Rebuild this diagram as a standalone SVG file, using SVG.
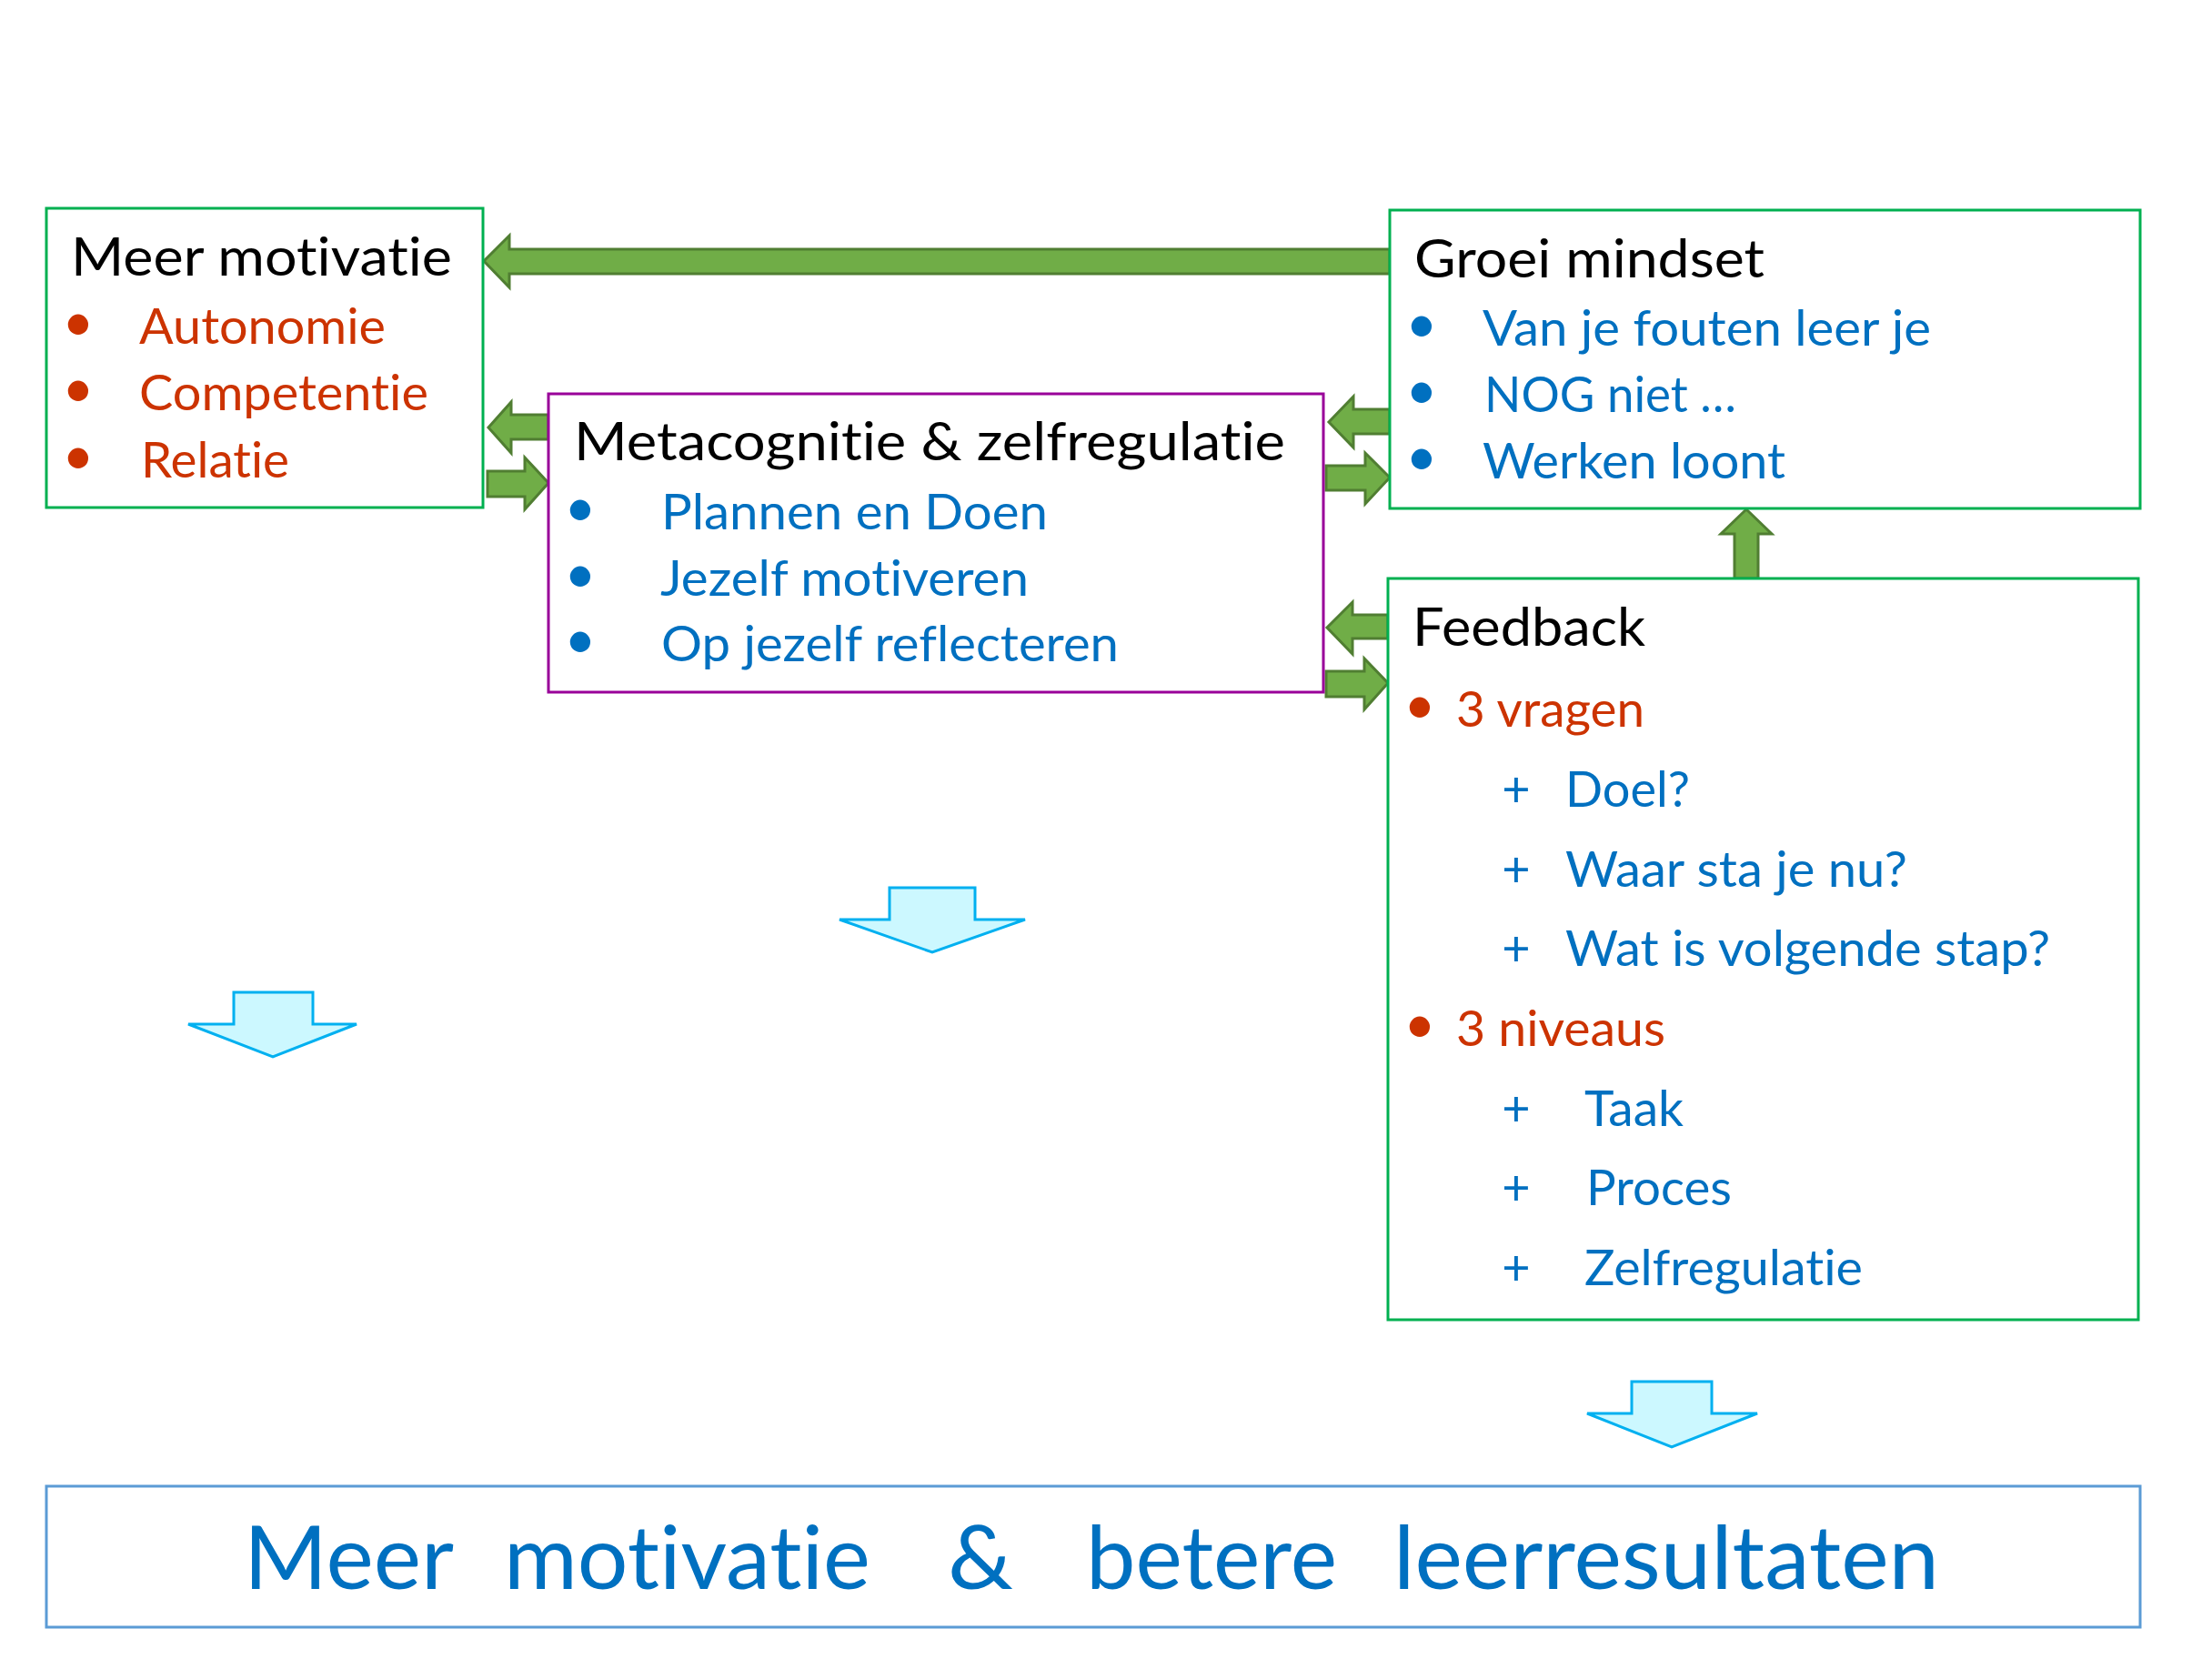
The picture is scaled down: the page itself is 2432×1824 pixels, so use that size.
<svg xmlns="http://www.w3.org/2000/svg" width="2432" height="1824" viewBox="0 0 2432 1824">
<style>
text{font-family:Lato,"Open Sans","Liberation Sans",sans-serif;font-variant-ligatures:none;}
.t{font-size:59px;fill:#000000;}
.i{font-size:54px;}
.r{fill:#CC3300;}
.b{fill:#0070C0;}
.bul{font-size:60px;text-anchor:middle;}
.pl{font-size:54px;text-anchor:middle;}
.gbox{fill:#FFFFFF;stroke:#00B050;stroke-width:3;}
.pbox{fill:#FFFFFF;stroke:#990099;stroke-width:3;}
.bbox{fill:#FFFFFF;stroke:#5B9BD5;stroke-width:3;}
.ga{fill:#70AD47;stroke:#507E32;stroke-width:3;stroke-linejoin:miter;}
.ca{fill:#CCF8FF;stroke:#00B0F0;stroke-width:3;stroke-linejoin:miter;}
.big{font-size:96px;fill:#0070C0;}
</style>
<rect width="2432" height="1824" fill="#FFFFFF"/>

<g id="connectors">
  <polygon class="ga" points="1528,274 560,274 560,259 532,287 560,316 560,301 1528,301"/>
  <polygon class="ga" points="603,456 562,456 562,442 537,470 562,498 562,483 603,483"/>
  <polygon class="ga" points="536,518 577,518 577,503 603,531 577,560 577,546 536,546"/>
  <polygon class="ga" points="1528,450 1488,450 1488,436 1461,464 1488,492 1488,477 1528,477"/>
  <polygon class="ga" points="1458,512 1501,512 1501,498 1528,525 1501,554 1501,539 1458,539"/>
  <polygon class="ga" points="1526,676 1487,676 1487,662 1459,690 1487,719 1487,702 1526,702"/>
  <polygon class="ga" points="1458,738 1500,738 1500,724 1526,751 1500,780 1500,766 1458,766"/>
  <polygon class="ga" points="1907,636 1907,587 1892,587 1920,560 1948,587 1933,587 1933,636"/>
  <polygon class="ca" points="978,976 1072,976 1072,1011 1127,1011 1025,1047 923,1011 978,1011"/>
  <polygon class="ca" points="257,1091 344,1091 344,1126 392,1126 300,1162 207,1126 257,1126"/>
  <polygon class="ca" points="1794,1519 1882,1519 1882,1554 1932,1554 1838,1591 1745,1554 1794,1554"/>
</g>

<g id="node-meer-motivatie">
  <rect class="gbox" x="51" y="229" width="480" height="329"/>
  <text class="t" x="78" y="303" textLength="419" lengthAdjust="spacingAndGlyphs">Meer motivatie</text>
  <text class="bul r" x="86" y="375">•</text>
  <text class="i r" x="153" y="378" textLength="271" lengthAdjust="spacingAndGlyphs">Autonomie</text>
  <text class="bul r" x="86" y="448">•</text>
  <text class="i r" x="153" y="451" textLength="318" lengthAdjust="spacingAndGlyphs">Competentie</text>
  <text class="bul r" x="86" y="522">•</text>
  <text class="i r" x="155" y="525" textLength="163" lengthAdjust="spacingAndGlyphs">Relatie</text>
</g>

<g id="node-metacognitie">
  <rect class="pbox" x="603" y="433" width="852" height="328"/>
  <text class="t" x="631" y="506" textLength="782" lengthAdjust="spacingAndGlyphs">Metacognitie &amp; zelfregulatie</text>
  <text class="bul b" x="638" y="579">•</text>
  <text class="i b" x="727" y="582" textLength="425" lengthAdjust="spacingAndGlyphs">Plannen en Doen</text>
  <text class="bul b" x="638" y="652">•</text>
  <text class="i b" x="726" y="655" textLength="405" lengthAdjust="spacingAndGlyphs">Jezelf motiveren</text>
  <text class="bul b" x="638" y="724">•</text>
  <text class="i b" x="727" y="727" textLength="503" lengthAdjust="spacingAndGlyphs">Op jezelf reflecteren</text>
</g>

<g id="node-groei-mindset">
  <rect class="gbox" x="1528" y="231" width="825" height="328"/>
  <text class="t" x="1555" y="305" textLength="385" lengthAdjust="spacingAndGlyphs">Groei mindset</text>
  <text class="bul b" x="1563" y="377">•</text>
  <text class="i b" x="1630" y="380" textLength="493" lengthAdjust="spacingAndGlyphs">Van je fouten leer je</text>
  <text class="bul b" x="1563" y="450">•</text>
  <text class="i b" x="1632" y="453" textLength="277" lengthAdjust="spacingAndGlyphs">NOG niet …</text>
  <text class="bul b" x="1563" y="523">•</text>
  <text class="i b" x="1630" y="526" textLength="333" lengthAdjust="spacingAndGlyphs">Werken loont</text>
</g>

<g id="node-feedback">
  <rect class="gbox" x="1526" y="636" width="825" height="815"/>
  <text class="t" x="1553" y="710" textLength="256" lengthAdjust="spacingAndGlyphs">Feedback</text>
  <text class="bul r" x="1561" y="796">•</text>
  <text class="i r" x="1601" y="799" textLength="207" lengthAdjust="spacingAndGlyphs">3 vragen</text>
  <text class="pl b" x="1667" y="887">+</text>
  <text class="i b" x="1721" y="887" textLength="137" lengthAdjust="spacingAndGlyphs">Doel?</text>
  <text class="pl b" x="1667" y="975">+</text>
  <text class="i b" x="1721" y="975" textLength="376" lengthAdjust="spacingAndGlyphs">Waar sta je nu?</text>
  <text class="pl b" x="1667" y="1062">+</text>
  <text class="i b" x="1721" y="1062" textLength="533" lengthAdjust="spacingAndGlyphs">Wat is volgende stap?</text>
  <text class="bul r" x="1561" y="1147">•</text>
  <text class="i r" x="1601" y="1150" textLength="230" lengthAdjust="spacingAndGlyphs">3 niveaus</text>
  <text class="pl b" x="1667" y="1238">+</text>
  <text class="i b" x="1742" y="1238" textLength="109" lengthAdjust="spacingAndGlyphs">Taak</text>
  <text class="pl b" x="1667" y="1325">+</text>
  <text class="i b" x="1744" y="1325" textLength="160" lengthAdjust="spacingAndGlyphs">Proces</text>
  <text class="pl b" x="1667" y="1413">+</text>
  <text class="i b" x="1742" y="1413" textLength="306" lengthAdjust="spacingAndGlyphs">Zelfregulatie</text>
</g>

<g id="node-resultaat">
  <rect class="bbox" x="51" y="1634" width="2302" height="155"/>
  <text class="big" y="1747"><tspan x="268" textLength="231" lengthAdjust="spacingAndGlyphs">Meer</tspan><tspan x="554" textLength="403" lengthAdjust="spacingAndGlyphs">motivatie</tspan><tspan x="1042" textLength="72" lengthAdjust="spacingAndGlyphs">&amp;</tspan><tspan x="1194" textLength="276" lengthAdjust="spacingAndGlyphs">betere</tspan><tspan x="1532" textLength="600" lengthAdjust="spacingAndGlyphs">leerresultaten</tspan></text>
</g>
</svg>
